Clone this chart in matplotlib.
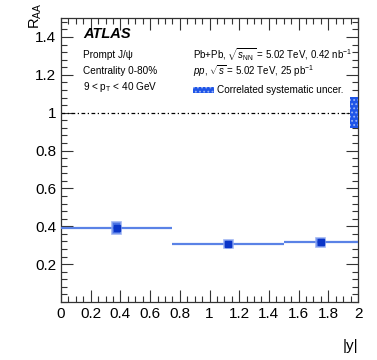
import numpy as np
import matplotlib
matplotlib.use('Agg')
import matplotlib.pyplot as plt
from matplotlib.patches import Rectangle
from matplotlib.ticker import MultipleLocator

plt.rcParams['font.family'] = ['Liberation Sans', 'DejaVu Sans']
plt.rcParams['mathtext.fontset'] = 'custom'
plt.rcParams['mathtext.rm'] = 'Liberation Sans'
plt.rcParams['mathtext.it'] = 'Liberation Sans:italic'
plt.rcParams['mathtext.bf'] = 'Liberation Sans:bold'
plt.rcParams['hatch.linewidth'] = 0.8

# Data: R_AA vs |y| for prompt J/psi
bin_lo = [0.0, 0.75, 1.5]
bin_hi = [0.75, 1.5, 2.0]
y_center = [0.375, 1.125, 1.75]
raa = [0.39, 0.305, 0.315]
raa_sys = [0.03, 0.022, 0.023]
corr_unc = 0.083

line_col = '#5a82e6'
mark_col = '#0a35c8'
box_col = '#2a5ae0'

fig = plt.figure(figsize=(3.77, 3.60), dpi=100)
ax = fig.add_axes([61/377, 1 - 302/360, (358 - 61)/377, (302 - 18)/360])

ax.set_xlim(0, 2)
ax.set_ylim(0, 1.5)

# reference line at unity
ax.axhline(1.0, color='black', lw=0.9, ls=(0, (3, 2, 1, 2)))

# horizontal bin-width bars
ax.hlines(raa, bin_lo, bin_hi, color=line_col, lw=1.6, zorder=3)

# systematic boxes
for xc, v, s in zip(y_center, raa, raa_sys):
    ax.add_patch(Rectangle((xc - 0.03, v - s), 0.06, 2 * s, facecolor=box_col,
                           edgecolor='#8fa8f0', lw=1.2, alpha=0.85, zorder=4))
ax.plot(y_center, raa, 's', color=mark_col, ms=4.5, zorder=5)

# correlated systematic uncertainty box at the right edge
ax.add_patch(Rectangle((1.946, 1 - corr_unc), 0.054, 2 * corr_unc, facecolor='#1f55e8',
                       edgecolor='#9ab4f4', hatch='....', lw=0, zorder=6))

# ticks in ROOT style
ax.xaxis.set_major_locator(MultipleLocator(0.2))
ax.xaxis.set_minor_locator(MultipleLocator(0.05))
ax.yaxis.set_major_locator(MultipleLocator(0.2))
ax.yaxis.set_minor_locator(MultipleLocator(0.04))
ax.tick_params(which='both', direction='in', top=True, right=True, labelsize=11, colors='#333333', labelcolor='black')
ax.tick_params(which='major', length=8.5, width=0.8)
ax.tick_params(which='minor', length=4.5, width=0.8)
ax.set_xticks(np.arange(0, 2.01, 0.2))
ax.set_xticklabels(['0', '0.2', '0.4', '0.6', '0.8', '1', '1.2', '1.4', '1.6', '1.8', '2'])
ax.set_yticks(np.arange(0.2, 1.41, 0.2))
ax.set_yticklabels(['0.2', '0.4', '0.6', '0.8', '1', '1.2', '1.4'])
for sp in ax.spines.values():
    sp.set_color('#333333')
    sp.set_linewidth(0.9)

ax.set_ylabel(r'R$_{\rm AA}$', fontsize=10.5, loc='top')
ax.yaxis.set_label_coords(-0.058, 1.055)
ax.set_xlabel('|y|', fontsize=11, loc='right', labelpad=13)

def ft(x, y, s, **kw):
    fig.text(x/377, 1 - y/360, s, va='center', ha='left', **kw)

ft(83, 34, 'ATLAS', fontsize=10.5, fontweight='bold', fontstyle='italic')
ft(83, 55, 'Prompt J/ψ', fontsize=7.2)
ft(83, 71, 'Centrality 0-80%', fontsize=7.2)
ft(83, 87, r'9 < p$_{\rm T}$ < 40 GeV', fontsize=7.2)
ft(193, 55, r'Pb+Pb, $\sqrt{s_{\rm NN}}$ = 5.02 TeV, 0.42 nb$^{-1}$', fontsize=7.0)
ft(193, 71, r'$\it{pp}$, $\sqrt{s}$ = 5.02 TeV, 25 pb$^{-1}$', fontsize=7.0)
fig.patches.append(Rectangle((193/377, 1 - 93/360), 21/377, 6/360, transform=fig.transFigure,
                             facecolor='#1f55e8', edgecolor='#9ab4f4', hatch='....', lw=0))
ft(217, 90, 'Correlated systematic uncer.', fontsize=7.2)

fig.savefig('out.png', dpi=100)
